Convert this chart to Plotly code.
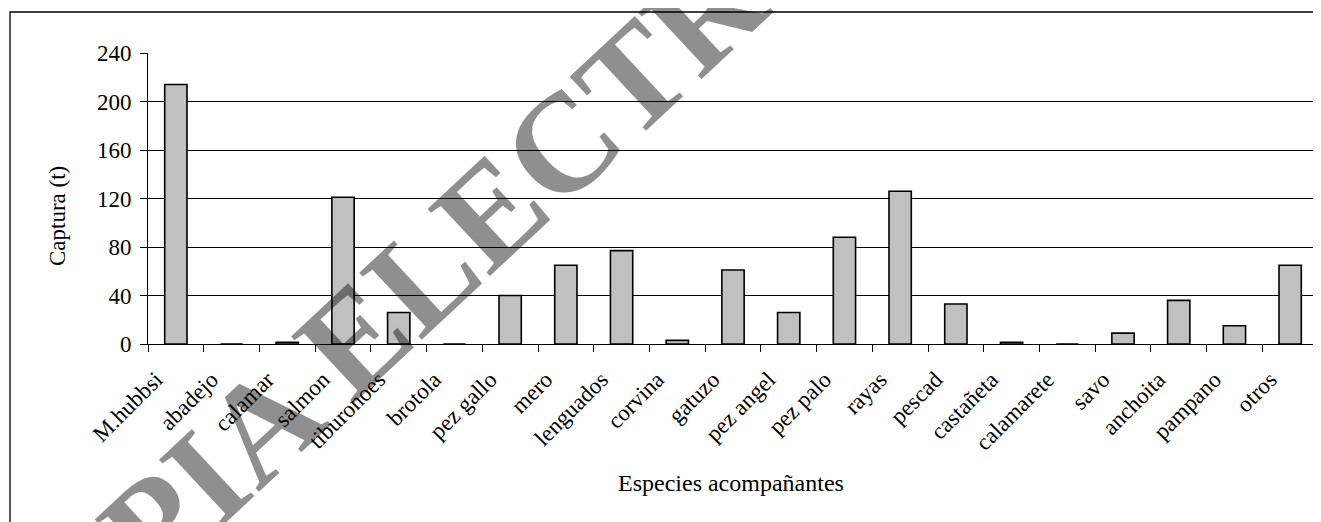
import plotly.graph_objects as go

categories = ["M.hubbsi", "abadejo", "calamar", "salmon", "tiburonoes", "brotola",
              "pez gallo", "mero", "lenguados", "corvina", "gatuzo", "pez angel",
              "pez palo", "rayas", "pescad", "castañeta", "calamarete", "savo",
              "anchoita", "pampano", "otros"]
captura = [214, 0, 1.5, 121, 26, 0, 40, 65, 77, 3, 61, 26, 88, 126, 33, 1.5, 0, 9, 36, 15, 65]
y_ticks = [0, 40, 80, 120, 160, 200, 240]
x_title = "Especies acompañantes"
y_title = "Captura (t)"
watermark = "COPIA ELECTRONICA"

# page body has an 8px margin: work in reference pixels and offset
OFF = 8
W, H = 1321 - OFF, 522 - OFF
PL, PR, PT, PB = 148, 1318, 53, 344   # plot area in reference pixels
L, R, T, B = PL - OFF, W - (PR - OFF), PT - OFF, H - (PB - OFF)
PW, PH = PR - PL, PB - PT

def px(x):
    return (x - PL) / PW

def py(y):
    return (PB - y) / PH

FONT = "Liberation Serif, Times New Roman, serif"

fig = go.Figure(go.Bar(
    x=categories, y=captura,
    marker=dict(color="#C0C0C0", line=dict(color="#000000", width=1.6)),
    width=0.4,
))

fig.update_layout(
    width=W, height=H,
    margin=dict(l=L, r=R, t=T, b=B, pad=0),
    paper_bgcolor="white", plot_bgcolor="white",
    showlegend=False,
    font=dict(family=FONT, size=22, color="black"),
    xaxis=dict(
        tickangle=-45, ticks="outside", ticklen=7, tickcolor="black",
        tickson="boundaries", showline=True, linecolor="black", linewidth=1,
        showgrid=False, ticklabelshift=-20, ticklabelstandoff=12,
        tickfont=dict(family=FONT, size=23, color="black"),
    ),
    yaxis=dict(
        range=[0, 240], tickvals=y_ticks, ticks="outside", ticklen=7,
        tickcolor="black", showline=True, linecolor="black", linewidth=1,
        showgrid=True, gridcolor="black", gridwidth=1, zeroline=False,
        ticklabelstandoff=4, tickfont=dict(family=FONT, size=23, color="black"),
    ),
    shapes=[dict(type="rect", xref="paper", yref="paper",
                 x0=px(10), y0=py(540), x1=px(1340), y1=py(12),
                 line=dict(color="black", width=1.3), layer="below")],
    annotations=[
        dict(text=x_title, xref="paper", yref="paper", x=px(731), y=py(483),
             showarrow=False, font=dict(family=FONT, size=24, color="black"),
             xanchor="center", yanchor="middle"),
        dict(text=y_title, xref="paper", yref="paper", x=px(57), y=py(216),
             showarrow=False, textangle=-90,
             font=dict(family=FONT, size=23, color="black"),
             xanchor="center", yanchor="middle"),
        dict(text="<b>" + watermark + "</b>", xref="paper", yref="paper",
             x=px(525), y=py(178), showarrow=False, textangle=-43,
             font=dict(family=FONT, size=140, color="rgba(0,0,0,0.44)"),
             xanchor="center", yanchor="middle"),
    ],
)

fig.write_html("out.html")
